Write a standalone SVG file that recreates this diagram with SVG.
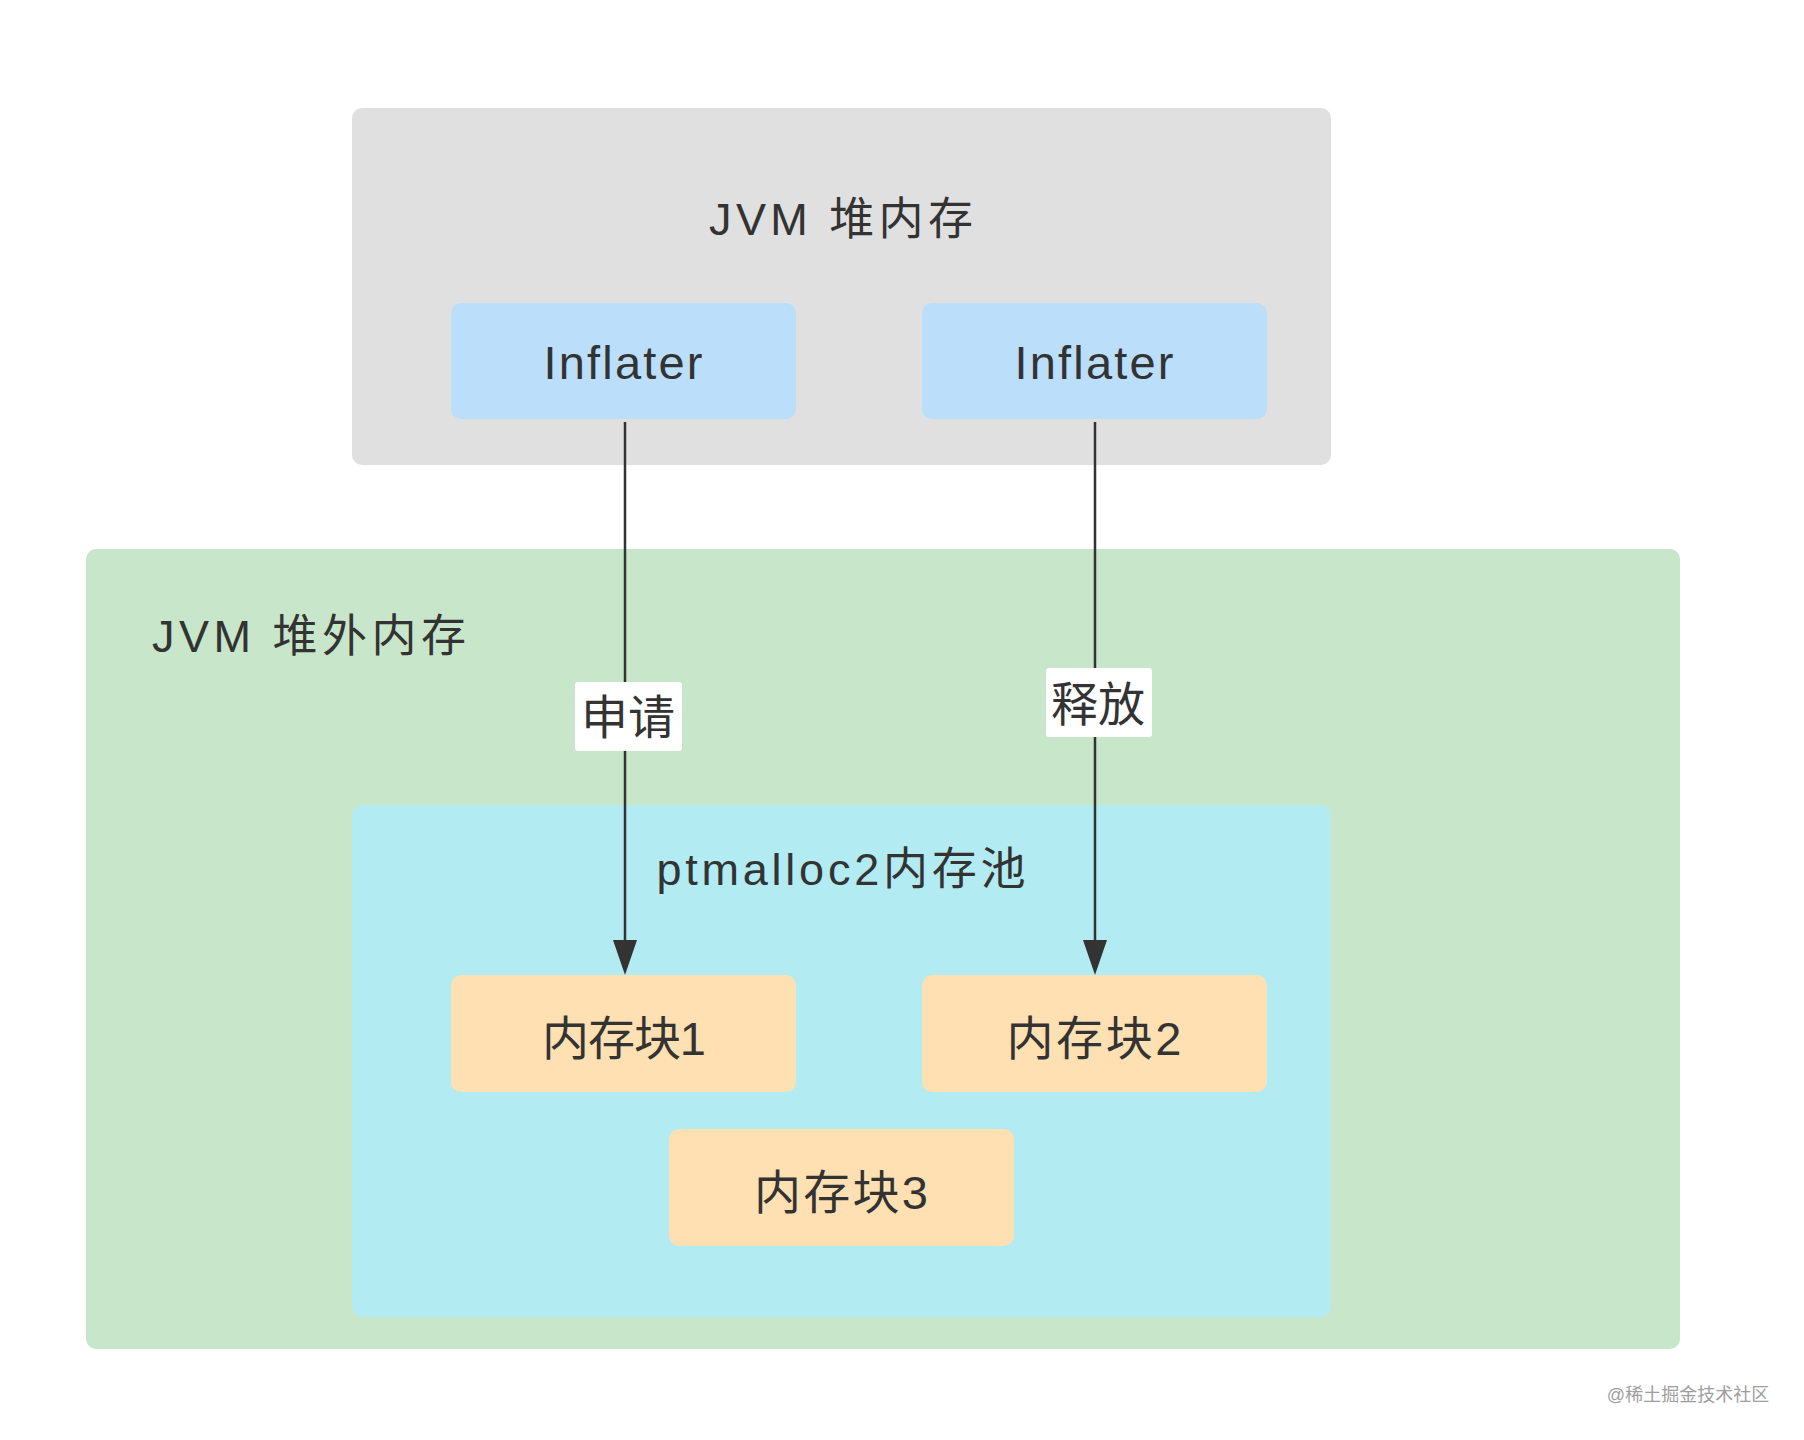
<svg xmlns="http://www.w3.org/2000/svg" width="1804" height="1440" viewBox="0 0 1804 1440">
  <style>
    text { font-family: "Liberation Sans", "Noto Sans CJK SC", sans-serif; fill: #333333; text-anchor: middle; dominant-baseline: central; }
    .big { font-size: 45px; }
    .node { font-size: 47px; }
    .lbl { font-size: 47px; }
    .conn { stroke: #333333; stroke-width: 2.5; fill: none; }
    .head { fill: #333333; }
  </style>
  <rect width="1804" height="1440" fill="#ffffff"/>

  <g id="heap">
    <rect x="352" y="108" width="979" height="357" rx="10" fill="#e0e0e0"/>
    <text class="big" x="841" y="219" textLength="264" lengthAdjust="spacing">JVM 堆内存</text>
  </g>
  <g id="offheap">
    <rect x="86" y="549" width="1594" height="800" rx="10" fill="#c8e6c9"/>
    <text class="big" x="309" y="636" textLength="314" lengthAdjust="spacing">JVM 堆外内存</text>
  </g>
  <g id="pool">
    <rect x="352" y="805" width="979" height="512" rx="10" fill="#b2ebf2"/>
    <text class="big" x="841" y="869" textLength="369" lengthAdjust="spacing">ptmalloc2内存池</text>
  </g>
  <g id="inflater1">
    <rect x="451" y="303" width="345" height="116" rx="10" fill="#bbdefb"/>
    <text class="node" x="623" y="362" textLength="159" lengthAdjust="spacing">Inflater</text>
  </g>
  <g id="inflater2">
    <rect x="922" y="303" width="345" height="116" rx="10" fill="#bbdefb"/>
    <text class="node" x="1094" y="362" textLength="159" lengthAdjust="spacing">Inflater</text>
  </g>
  <g id="block1">
    <rect x="451" y="975" width="345" height="117" rx="10" fill="#ffe0b2"/>
    <text class="node" x="624" y="1038" textLength="164" lengthAdjust="spacing">内存块1</text>
  </g>
  <g id="block2">
    <rect x="922" y="975" width="345" height="117" rx="10" fill="#ffe0b2"/>
    <text class="node" x="1094" y="1038" textLength="175" lengthAdjust="spacing">内存块2</text>
  </g>
  <g id="block3">
    <rect x="669" y="1129" width="345" height="117" rx="10" fill="#ffe0b2"/>
    <text class="node" x="841" y="1192" textLength="174" lengthAdjust="spacing">内存块3</text>
  </g>

  <g id="connectors">
    <path class="conn" d="M625,422 L625,940"/>
    <path class="head" d="M613,940 L637,940 L625,975 Z"/>
    <path class="conn" d="M1095,422 L1095,940"/>
    <path class="head" d="M1083,940 L1107,940 L1095,975 Z"/>
    <g id="label-apply">
      <rect x="575" y="682" width="107" height="69" rx="3" fill="#ffffff"/>
      <text class="lbl" x="628" y="717">申请</text>
    </g>
    <g id="label-release">
      <rect x="1046" y="668" width="106" height="69" rx="3" fill="#ffffff"/>
      <text class="lbl" x="1098" y="704">释放</text>
    </g>
  </g>

  <text x="1688" y="1395" style="font-size:18px; fill:#9e9e9e;">@稀土掘金技术社区</text>
</svg>
